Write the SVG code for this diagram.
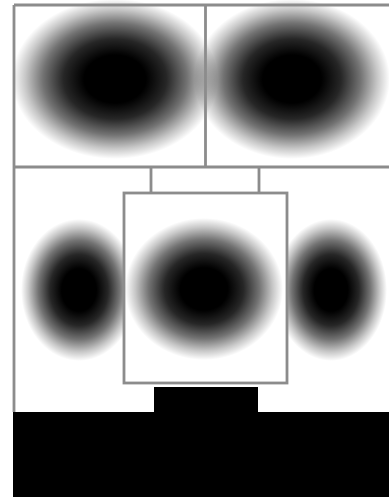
<svg xmlns="http://www.w3.org/2000/svg" width="389" height="497" viewBox="0 0 389 497">
<style>
.ln{stroke:#8c8c8c;stroke-width:2.8;fill:none}
.bx{stroke:#8c8c8c;stroke-width:2.8;fill:#ffffff}
.blk{fill:#000000}
</style>
<defs>
<radialGradient id="g" cx="0.5" cy="0.5" r="0.5">
<stop offset="0" stop-color="#000" stop-opacity="1"/>
<stop offset="0.3" stop-color="#000" stop-opacity="1"/>
<stop offset="0.5" stop-color="#000" stop-opacity="0.85"/>
<stop offset="0.7" stop-color="#000" stop-opacity="0.55"/>
<stop offset="0.87" stop-color="#000" stop-opacity="0.22"/>
<stop offset="1" stop-color="#000" stop-opacity="0"/>
</radialGradient>
</defs>
<rect width="389" height="497" fill="#ffffff"/>
<g id="top-left"><ellipse cx="115" cy="79" rx="103" ry="80" fill="url(#g)"/></g>
<g id="top-right"><ellipse cx="292" cy="79" rx="98" ry="80" fill="url(#g)"/></g>
<g id="left-blob"><ellipse cx="79" cy="290" rx="58" ry="71" fill="url(#g)"/></g>
<g id="right-blob"><ellipse cx="331" cy="290" rx="56" ry="71" fill="url(#g)"/></g>
<g id="base"><path class="blk" d="M13 412 H154 V387 H258 V412 H389 V497 H13 Z"/></g>
<g id="connectors">
<path class="ln" d="M14 5 H389 M14 5 V412 M205.5 5 V167 M14 167 H389 M151 167 V193 M259 167 V193"/>
</g>
<g id="center-box">
<rect class="bx" x="124" y="193" width="163" height="190"/>
<ellipse cx="204" cy="289" rx="79" ry="71" fill="url(#g)"/>
</g>
</svg>
